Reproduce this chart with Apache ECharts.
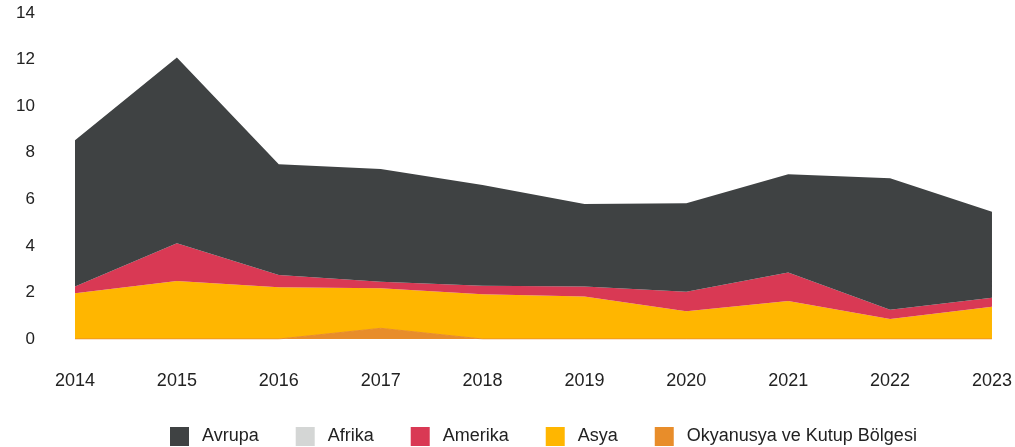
<!DOCTYPE html>
<html>
<head>
<meta charset="utf-8">
<script src="https://cdn.jsdelivr.net/npm/echarts@6/dist/echarts.min.js"></script>
<style>
  html, body { margin: 0; padding: 0; background: #fff; }
  #chart { width: 1015px; height: 447px; }
</style>
</head>
<body>
<div id="chart"></div>
<script>
const years = ['2014', '2015', '2016', '2017', '2018', '2019', '2020', '2021', '2022', '2023']
const avrupa = [6.29, 7.98, 4.75, 4.84, 4.32, 3.55, 3.80, 4.21, 5.64, 3.70]
const afrika = [0, 0, 0, 0, 0, 0, 0, 0, 0, 0]
const amerika = [0.28, 1.62, 0.53, 0.28, 0.37, 0.43, 0.84, 1.23, 0.40, 0.38]
const asya = [1.97, 2.49, 2.22, 1.72, 1.92, 1.82, 1.19, 1.63, 0.86, 1.39]
const okyanusya = [0, 0, 0, 0.46, 0, 0, 0, 0, 0, 0]
const yTicks = { min: 0, max: 14, interval: 2 }

const font = '"Liberation Sans", Arial, sans-serif'
const chart = echarts.init(document.getElementById('chart'))

function area(name, data, color, lineWidth) {
  return {
    name,
    type: 'line',
    stack: 'total',
    data,
    symbol: 'none',
    color,
    lineStyle: { width: lineWidth, color },
    areaStyle: { color, opacity: 1 },
    emphasis: { disabled: true },
  }
}

chart.setOption({
  animation: false,
  textStyle: { fontFamily: font },
  grid: { left: 75, right: 22, top: 13, bottom: 108 },
  legend: {
    data: ['Avrupa', 'Afrika', 'Amerika', 'Asya', 'Okyanusya ve Kutup Bölgesi'],
    left: 165,
    top: 422,
    icon: 'rect',
    itemWidth: 19,
    itemHeight: 19,
    itemGap: 37,
    textStyle: { color: '#222', fontSize: 18, fontFamily: font, padding: [0, 0, 0, 8] },
  },
  xAxis: {
    type: 'category',
    boundaryGap: false,
    data: years,
    axisLine: { show: false },
    axisTick: { show: false },
    axisLabel: { color: '#222', fontSize: 18, margin: 33 },
  },
  yAxis: {
    type: 'value',
    min: yTicks.min,
    max: yTicks.max,
    interval: yTicks.interval,
    axisLine: { show: false },
    axisTick: { show: false },
    splitLine: { show: false },
    axisLabel: { color: '#222', fontSize: 17, margin: 40 },
  },
  series: [
    area('Okyanusya ve Kutup Bölgesi', okyanusya, '#e88d2a', 1),
    area('Asya', asya, '#ffb600', 0),
    area('Amerika', amerika, '#d93954', 0),
    area('Afrika', afrika, '#d4d6d5', 0),
    area('Avrupa', avrupa, '#3f4243', 0),
  ],
})
</script>
</body>
</html>
